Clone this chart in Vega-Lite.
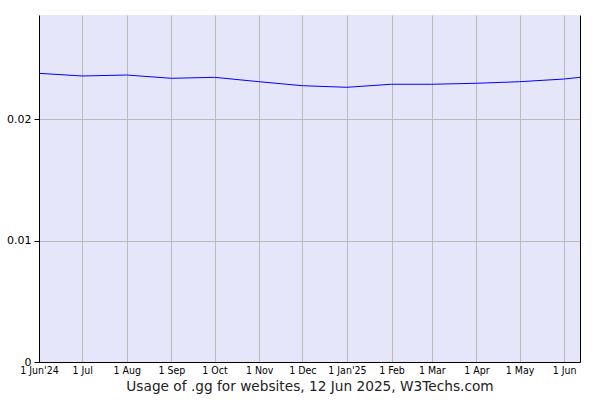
{
  "$schema": "https://vega.github.io/schema/vega-lite/v6.json",
  "width": 541,
  "height": 347,
  "autosize": {"type": "none"},
  "padding": {"left": 39, "top": 15, "right": 20, "bottom": 38},
  "background": "white",
  "config": {
    "view": {"fill": "#e6e6fa", "stroke": null},
    "axis": {"labelFont": "DejaVu Sans", "titleFont": "DejaVu Sans"}
  },
  "data": {
    "values": [
      {"date": "2024-06-01", "share": 0.02376},
      {"date": "2024-07-01", "share": 0.02354},
      {"date": "2024-08-01", "share": 0.02362},
      {"date": "2024-09-01", "share": 0.02335},
      {"date": "2024-10-01", "share": 0.02343},
      {"date": "2024-11-01", "share": 0.02307},
      {"date": "2024-12-01", "share": 0.02274},
      {"date": "2025-01-01", "share": 0.02261},
      {"date": "2025-02-01", "share": 0.02286},
      {"date": "2025-03-01", "share": 0.02286},
      {"date": "2025-04-01", "share": 0.02294},
      {"date": "2025-05-01", "share": 0.02307},
      {"date": "2025-06-01", "share": 0.02329},
      {"date": "2025-06-12", "share": 0.02343}
    ]
  },
  "layer": [
    {
      "mark": {"type": "line", "color": "#0000ff", "strokeWidth": 1, "clip": true},
      "encoding": {
        "x": {
          "field": "date",
          "type": "temporal",
          "scale": {"domain": [{"year": 2024, "month": 6, "date": 1}, {"year": 2025, "month": 6, "date": 12}], "nice": false},
          "axis": {
            "values": [
              {"year": 2024, "month": 6, "date": 1},
              {"year": 2024, "month": 7, "date": 1},
              {"year": 2024, "month": 8, "date": 1},
              {"year": 2024, "month": 9, "date": 1},
              {"year": 2024, "month": 10, "date": 1},
              {"year": 2024, "month": 11, "date": 1},
              {"year": 2024, "month": 12, "date": 1},
              {"year": 2025, "month": 1, "date": 1},
              {"year": 2025, "month": 2, "date": 1},
              {"year": 2025, "month": 3, "date": 1},
              {"year": 2025, "month": 4, "date": 1},
              {"year": 2025, "month": 5, "date": 1},
              {"year": 2025, "month": 6, "date": 1}
            ],
            "labelExpr": "timeFormat(datum.value, '%-d %b') + ((month(datum.value) == 0 || (month(datum.value) == 5 && year(datum.value) == 2024)) ? \"'\" + timeFormat(datum.value, '%y') : '')",
            "labelFont": "DejaVu Sans Condensed",
            "labelFontSize": 10.5,
            "labelColor": "#000000",
            "labelPadding": 3,
            "labelFlush": false,
            "labelOverlap": false,
            "ticks": false,
            "grid": true,
            "gridColor": "#bbbbbb",
            "gridOpacity": 1,
            "domainColor": "#000000",
            "title": "Usage of .gg for websites, 12 Jun 2025, W3Techs.com",
            "titleFontSize": 13.7,
            "titleFontWeight": "normal",
            "titleColor": "#222222",
            "titlePadding": 4
          }
        },
        "y": {
          "field": "share",
          "type": "quantitative",
          "scale": {"domain": [0, 0.02856], "nice": false, "zero": true},
          "axis": {
            "values": [0, 0.01, 0.02],
            "labelExpr": "datum.value == 0 ? '0' : format(datum.value, '.2f')",
            "labelFontSize": 11,
            "labelColor": "#000000",
            "tickColor": "#000000",
            "tickSize": 5,
            "labelPadding": 3,
            "grid": true,
            "gridColor": "#bbbbbb",
            "gridOpacity": 1,
            "domainColor": "#000000",
            "title": null
          }
        }
      }
    },
    {
      "mark": {"type": "line", "opacity": 0},
      "encoding": {
        "x": {"field": "date", "type": "temporal"},
        "y": {
          "field": "share",
          "type": "quantitative",
          "axis": {"orient": "right", "labels": false, "ticks": false, "grid": false, "domainColor": "#000000", "title": null}
        }
      }
    }
  ],
  "resolve": {"axis": {"y": "independent"}}
}
